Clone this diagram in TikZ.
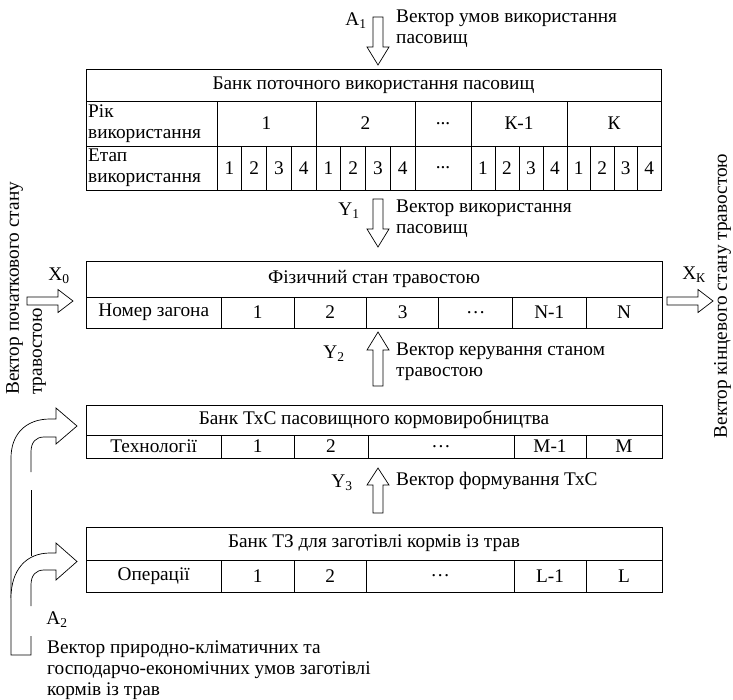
\documentclass[tikz,border=0pt]{standalone}
\usepackage{fontspec}
\setmainfont{Liberation Serif}
\newfontfamily\vfont{Liberation Serif}
\begin{document}
\begin{tikzpicture}[x=1pt,y=-1pt,
  tab/.style={draw=black, line width=0.8pt},
  arr/.style={draw=black, line width=0.7pt, fill=white, line join=miter},
  txt/.style={font=\fontsize{19.3}{21}\selectfont, inner sep=1pt},
  lab/.style={font=\fontsize{19.3}{21}\selectfont, inner sep=1pt, align=left, anchor=north west},
  vtxt/.style={font=\vfont\fontsize{19.3}{23}\selectfont, inner sep=1pt, align=left, rotate=90},
  pics/downarr/.style={code={\draw[arr] (-5,0) -- (-5,30) -- (-11,30) -- (0,48) -- (11,30) -- (5,30) -- (5,0) -- cycle;}},
  pics/uparrlong/.style={code={\draw[arr] (-5,0) -- (-5,-36) -- (-11,-36) -- (0,-54) -- (11,-36) -- (5,-36) -- (5,0) -- cycle;}},
  pics/uparr/.style={code={\draw[arr] (-5,0) -- (-5,-28) -- (-11,-28) -- (0,-45) -- (11,-28) -- (5,-28) -- (5,0) -- cycle;}},
  pics/rightarr/.style={code={\draw[arr] (0,-4) -- (31,-4) -- (31,-11.5) -- (46,0) -- (31,11.5) -- (31,4) -- (0,4) -- cycle;}}
]
\useasboundingbox (0,0) rectangle (733,699);

% ---------- Table 1 ----------
\draw[tab] (86,69) rectangle (661,190);
\draw[tab] (86,101) -- (661,101);
\draw[tab] (86,146) -- (661,146);
\foreach \x in {217,316,415,471,567} \draw[tab] (\x,101) -- (\x,190);
\foreach \x in {241.75,266.5,291.25,340.75,365.5,390.25,495,519,543,590.5,614,637.5} \draw[tab] (\x,146) -- (\x,190);
\node[txt] (b1) at (373.5,85) {Банк поточного використання пасовищ};
\node[txt, align=left, anchor=west] (rik) at (87,123.5) {Рік\\використання};
\node[txt] (y1c) at (266.5,123.5) {1};
\node[txt] (y2c) at (365.5,123.5) {2};
\node[txt] (ydc) at (443,123.5) {...};
\node[txt] (ykm) at (519,123.5) {К-1};
\node[txt] (ykc) at (614,123.5) {К};
\node[txt, align=left, anchor=west] (etap) at (87,168) {Етап\\використання};
\foreach \x/\n [count=\i] in {229.4/1,254.1/2,278.9/3,303.6/4,328.4/1,353.1/2,377.9/3,402.6/4,483/1,507/2,531/3,555/4,578.75/1,602.25/2,625.75/3,649.25/4}
  \node[txt] (e\i) at (\x,168) {\n};
\node[txt] (edots) at (443,168) {...};

% ---------- Table 2 ----------
\draw[tab] (86,261) rectangle (662,328);
\draw[tab] (86,297) -- (662,297);
\foreach \x in {221.5,294,366.4,438.8,512.6,586} \draw[tab] (\x,297) -- (\x,328);
\node[txt] (fs) at (374,279) {Фізичний стан травостою};
\foreach \x/\n [count=\i] in {153.75/Номер загона,257.75/1,330.2/2,402.6/3,475.7/…,549.3/N-1,624/N}
  \node[txt] (n\i) at (\x,312.5) {\n};

% ---------- Table TxC ----------
\draw[tab] (86,405) rectangle (662,458);
\draw[tab] (86,435) -- (662,435);
\foreach \x in {221.5,294,368,514,586} \draw[tab] (\x,435) -- (\x,458);
\node[txt] (txc) at (374,420) {Банк ТхС пасовищного кормовиробництва};
\foreach \x/\n [count=\i] in {153.75/Технології,257.75/1,331/2,441/…,550/M-1,624/M}
  \node[txt] (m\i) at (\x,446.5) {\n};

% ---------- Table 3 ----------
\draw[tab] (86,527) rectangle (662,592);
\draw[tab] (86,560) -- (662,560);
\foreach \x in {221.5,294,366.4,514,586} \draw[tab] (\x,560) -- (\x,592);
\node[txt] (tz) at (374,543.5) {Банк ТЗ для заготівлі кормів із трав};
\foreach \x/\n [count=\i] in {153.75/Операції,257.75/1,330.2/2,440.2/…,550/L-1,624/L}
  \node[txt] (l\i) at (\x,576) {\n};

% ---------- Vertical arrows ----------
\pic at (378,17) {downarr};
\node[txt] (a1) at (356,21) {A\textsubscript{1}};
\node[lab] (a1t) at (395,9) {Вектор умов використання\\пасовищ};

\pic at (378,199) {downarr};
\node[txt] (y1) at (349,211) {Y\textsubscript{1}};
\node[lab] (y1t) at (395,199) {Вектор використання\\пасовищ};

\pic at (378,386) {uparrlong};
\node[txt] (y2) at (334,354) {Y\textsubscript{2}};
\node[lab] (y2t) at (395,342) {Вектор керування станом\\травостою};

\pic at (378,513) {uparr};
\node[txt] (y3) at (342,483) {Y\textsubscript{3}};
\node[lab] (y3t) at (395,471) {Вектор формування ТхС};

% ---------- Horizontal arrows ----------
\pic at (27,301) {rightarr};
\node[txt] (x0) at (59,276) {X\textsubscript{0}};
\pic at (667,301) {rightarr};
\node[txt] (xk) at (694,275) {X\textsubscript{К}};

\node[vtxt, anchor=north west] (lv) at (5,396) {Вектор початкового стану\\травостою};
\node[vtxt, anchor=north] (rv) at (713,296) {Вектор кінцевого стану травостою};

% ---------- Bent arrows (A2) ----------
\draw[arr, fill=none] (31,472) -- (31,452) .. controls (31,442) and (36,437) .. (44,437) -- (56,437) -- (56,444) -- (77,426) -- (56,408) -- (56,419) -- (50,419)
   .. controls (26,419) and (11,434) .. (11,458) -- (11,655) -- (31,655) -- (31,636);
\draw[arr, fill=none] (31,490) -- (31,556);
\draw[arr] (11,598) .. controls (11,570) and (26,553) .. (50,553) -- (56,553) -- (56,543) -- (77,561.5) -- (56,580) -- (56,570) -- (44,570)
   .. controls (36,570) and (31,575) .. (31,585) -- (31,606);
\node[txt] (a2) at (57,620) {A\textsubscript{2}};
\node[lab] (a2t) at (46,640) {Вектор природно-кліматичних та\\господарчо-економічних умов заготівлі\\кормів із трав};
\end{tikzpicture}
\end{document}
